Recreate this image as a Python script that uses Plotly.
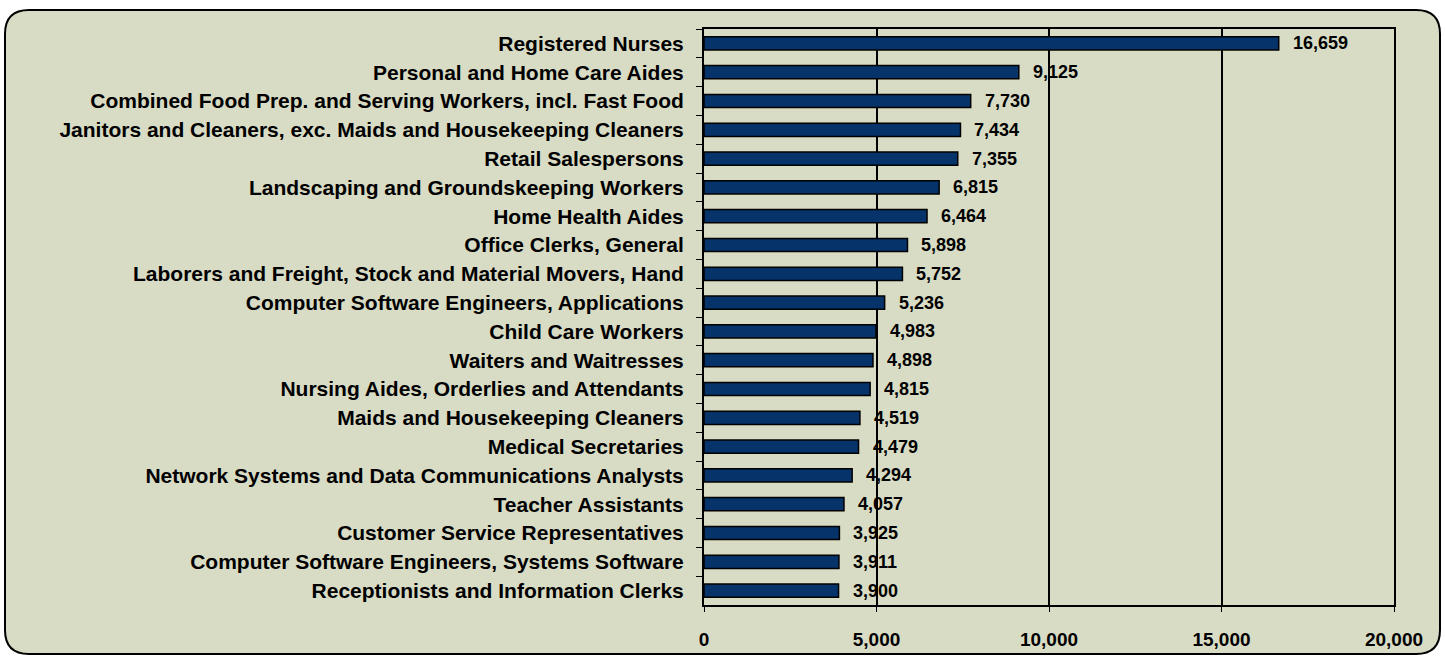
import plotly.graph_objects as go

categories = [
    "Registered Nurses",
    "Personal and Home Care Aides",
    "Combined Food Prep. and Serving Workers, incl. Fast Food",
    "Janitors and Cleaners, exc. Maids and Housekeeping Cleaners",
    "Retail Salespersons",
    "Landscaping and Groundskeeping Workers",
    "Home Health Aides",
    "Office Clerks, General",
    "Laborers and Freight, Stock and Material Movers, Hand",
    "Computer Software Engineers, Applications",
    "Child Care Workers",
    "Waiters and Waitresses",
    "Nursing Aides, Orderlies and Attendants",
    "Maids and Housekeeping Cleaners",
    "Medical Secretaries",
    "Network Systems and Data Communications Analysts",
    "Teacher Assistants",
    "Customer Service Representatives",
    "Computer Software Engineers, Systems Software",
    "Receptionists and Information Clerks",
]
values = [16659, 9125, 7730, 7434, 7355, 6815, 6464, 5898, 5752, 5236,
          4983, 4898, 4815, 4519, 4479, 4294, 4057, 3925, 3911, 3900]
x_ticks = [0, 5000, 10000, 15000, 20000]
x_tick_labels = ["0", "5,000", "10,000", "15,000", "20,000"]

W, H = 1445, 662
ML, MR, MT, MB = 704, 51, 29, 57
PW, PH = W - ML - MR, H - MT - MB

def px(xp):
    return (xp - ML) / PW

def py(yp):
    return 1 - (yp - MT) / PH

FONT = "Liberation Sans, Arial, sans-serif"

fig = go.Figure()
fig.add_trace(go.Bar(
    x=values, y=categories, orientation="h",
    marker=dict(color="#05336a", line=dict(color="#000000", width=1.5)),
    width=0.46,
    hoverinfo="x+y",
))

annotations = []
for c, v in zip(categories, values):
    annotations.append(dict(
        x=v, y=c, xref="x", yref="y", text=f"{v:,}", showarrow=False,
        xanchor="left", xshift=12,
        font=dict(family=FONT, size=18, color="#000000", weight="bold"),
    ))

# rounded outer frame
x0, x1, y0, y1, r = px(5), px(1440), py(10), py(654), 24
rx, ry = r / PW, r / PH
path = (f"M {x0+rx},{y0} L {x1-rx},{y0} Q {x1},{y0} {x1},{y0-ry} "
        f"L {x1},{y1+ry} Q {x1},{y1} {x1-rx},{y1} "
        f"L {x0+rx},{y1} Q {x0},{y1} {x0},{y1+ry} "
        f"L {x0},{y0-ry} Q {x0},{y0} {x0+rx},{y0} Z")

fig.update_layout(
    width=W, height=H,
    margin=dict(l=ML, r=MR, t=MT, b=MB),
    paper_bgcolor="#ffffff",
    plot_bgcolor="#ffffff",
    showlegend=False,
    font=dict(family=FONT, size=16, color="#000000", weight="bold"),
    annotations=annotations,
    shapes=[dict(type="path", xref="paper", yref="paper", path=path,
                 fillcolor="#d9dcc5", line=dict(color="#000000", width=2),
                 layer="below")],
    xaxis=dict(
        range=[0, 20000], tickvals=x_ticks, ticktext=x_tick_labels,
        showgrid=True, gridcolor="#000000", gridwidth=2,
        showline=True, linecolor="#000000", linewidth=2, mirror=True,
        ticks="outside", ticklen=5, tickcolor="#000000",
        tickfont=dict(family=FONT, size=19, color="#000000", weight="bold"),
        ticklabelstandoff=11,
        zeroline=False, fixedrange=True,
    ),
    yaxis=dict(
        autorange="reversed", type="category",
        showline=True, linecolor="#000000", linewidth=2, mirror=True,
        ticks="outside", ticklen=6, tickcolor="#000000", tickson="boundaries",
        showgrid=False,
        tickfont=dict(family=FONT, size=21, color="#000000", weight="bold"),
        ticklabelstandoff=14,
        fixedrange=True,
    ),
)

fig.write_html("out.html", config={"displayModeBar": False},
               post_script="document.body.style.margin='0';")
